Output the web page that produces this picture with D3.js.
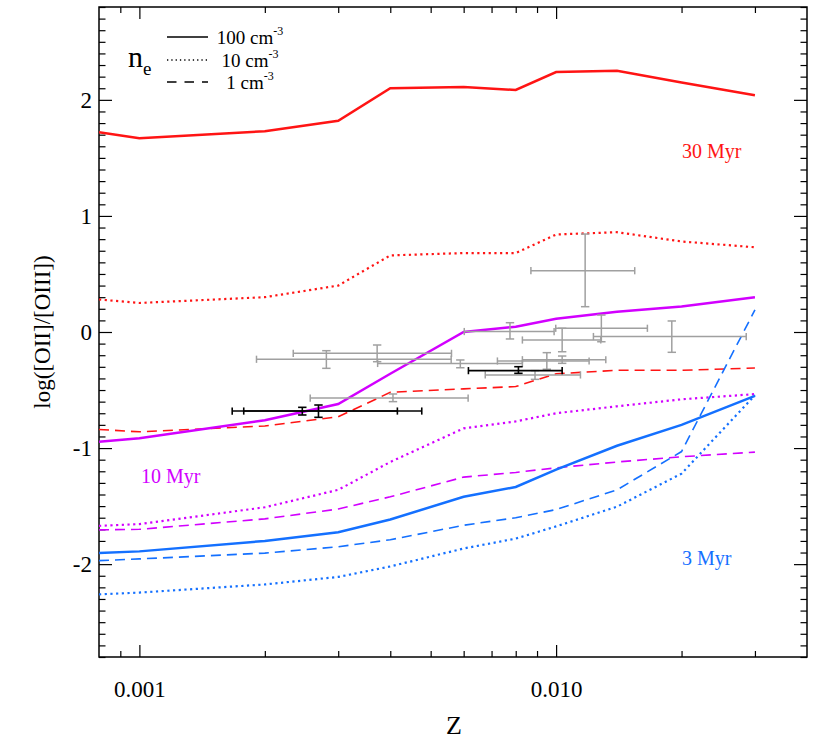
<!DOCTYPE html>
<html>
<head>
<meta charset="utf-8">
<script src="https://cdn.jsdelivr.net/npm/d3@7"></script>
<style>
body { margin: 0; background: #fff; }
text { font-family: "Liberation Serif", "DejaVu Serif", serif; fill: #000; }
</style>
</head>
<body>
<script>
// model grid in metallicity
var zGrid = [0.0008, 0.001, 0.002, 0.003, 0.004, 0.006, 0.008, 0.010, 0.014, 0.020, 0.030];

// 30 Myr
var red100 = [1.72, 1.67, 1.73, 1.82, 2.10, 2.11, 2.085, 2.24, 2.25, 2.15, 2.04];
var red10 = [0.28, 0.25, 0.30, 0.40, 0.66, 0.68, 0.68, 0.84, 0.86, 0.78, 0.73];
var red1 = [-0.84, -0.86, -0.81, -0.73, -0.52, -0.49, -0.47, -0.36, -0.33, -0.33, -0.31];

// 10 Myr
var mag100 = [-0.945, -0.915, -0.76, -0.62, -0.36, 0.0, 0.045, 0.115, 0.175, 0.22, 0.30];
var mag10 = [-1.67, -1.655, -1.51, -1.36, -1.12, -0.83, -0.77, -0.70, -0.64, -0.58, -0.535];
var mag1 = [-1.705, -1.70, -1.61, -1.525, -1.42, -1.25, -1.21, -1.17, -1.12, -1.075, -1.035];

// 3 Myr
var blue100 = [-1.905, -1.89, -1.80, -1.725, -1.615, -1.42, -1.335, -1.185, -0.98, -0.80, -0.55];
var blue10 = [-2.26, -2.245, -2.175, -2.11, -2.02, -1.865, -1.78, -1.675, -1.505, -1.22, -0.545];
var blue1 = [-1.97, -1.955, -1.905, -1.85, -1.79, -1.665, -1.60, -1.53, -1.36, -1.03, 0.19];

// observed points (grey)
var grayZ =   [0.00281, 0.00372, 0.00589, 0.00775, 0.01284, 0.01034, 0.01895, 0.00950, 0.01034, 0.00890, 0.00406, 0.01174];
var grayZlo = [0.00191, 0.00234, 0.00373, 0.00602, 0.00998, 0.00830, 0.01229, 0.00723, 0.00830, 0.00676, 0.00257, 0.00870];
var grayZhi = [0.00560, 0.00561, 0.00830, 0.00989, 0.01656, 0.01280, 0.02859, 0.01200, 0.01316, 0.01144, 0.00615, 0.01544];
var grayY =   [-0.235, -0.184, -0.271, 0.004, 0.032, -0.069, -0.039, -0.250, -0.239, -0.370, -0.569, 0.528];
var grayYlo = [-0.313, -0.256, -0.308, -0.060, -0.084, -0.170, -0.175, -0.321, -0.270, -0.408, -0.600, 0.218];
var grayYhi = [-0.161, -0.112, -0.241, 0.080, 0.146, 0.032, 0.095, -0.178, -0.207, -0.333, -0.534, 0.844];

// observed points (black)
var blackZ =   [0.00812, 0.00246, 0.00269];
var blackZlo = [0.00616, 0.00167, 0.00178];
var blackZhi = [0.01034, 0.00416, 0.00476];
var blackY =   [-0.333, -0.681, -0.681];
var blackYlo = [-0.356, -0.715, -0.735];
var blackYhi = [-0.299, -0.649, -0.629];

var xMajor = [0.001, 0.01];
var xMinor = [0.0009, 0.002, 0.003, 0.004, 0.005, 0.006, 0.007, 0.008, 0.009, 0.02, 0.03];
var yMajor = [-2, -1, 0, 1, 2];

var W = 830, H = 748;
var L = 99, R = 807, T = 7, B = 657;

var svg = d3.select("body")
            .append("svg")
            .attr("width", W)
            .attr("height", H);

var x = d3.scaleLog().domain([0.0008, 0.04]).range([L, R]);
var y = d3.scaleLinear().domain([-2.8, 2.8]).range([B, T]);

var yMinor = d3.range(-28, 29).filter(function(v){ return v % 10 != 0; }).map(function(v){ return v / 10; });

svg.append("clipPath").attr("id", "clip")
    .append("rect").attr("x", L).attr("y", T).attr("width", R - L).attr("height", B - T);

// axes (ticks point inward on all four sides)
function tidy(g){
    g.select(".domain").remove();
    g.attr("font-family", null);
    g.selectAll(".tick line").attr("stroke", "#000").attr("stroke-width", 1.2);
    g.selectAll(".tick text").style("font-size", "23px");
}

svg.append("g").attr("transform", "translate(0," + B + ")")
    .call(d3.axisBottom(x).tickValues(xMajor).tickSizeInner(-12).tickSizeOuter(0).tickPadding(24)
        .tickFormat(d3.format(".3f")))
    .call(tidy);
svg.append("g").attr("transform", "translate(0," + B + ")")
    .call(d3.axisBottom(x).tickValues(xMinor).tickSizeInner(-6).tickSizeOuter(0).tickFormat(""))
    .call(tidy);
svg.append("g").attr("transform", "translate(0," + T + ")")
    .call(d3.axisTop(x).tickValues(xMajor).tickSizeInner(-12).tickSizeOuter(0).tickFormat(""))
    .call(tidy);
svg.append("g").attr("transform", "translate(0," + T + ")")
    .call(d3.axisTop(x).tickValues(xMinor).tickSizeInner(-6).tickSizeOuter(0).tickFormat(""))
    .call(tidy);

svg.append("g").attr("transform", "translate(" + L + ",0)")
    .call(d3.axisLeft(y).tickValues(yMajor).tickSizeInner(-13).tickSizeOuter(0).tickPadding(7)
        .tickFormat(function(d){ return String(d); }))
    .call(tidy);
svg.append("g").attr("transform", "translate(" + L + ",0)")
    .call(d3.axisLeft(y).tickValues(yMinor).tickSizeInner(-6.5).tickSizeOuter(0).tickFormat(""))
    .call(tidy);
svg.append("g").attr("transform", "translate(" + R + ",0)")
    .call(d3.axisRight(y).tickValues(yMajor).tickSizeInner(-13).tickSizeOuter(0).tickFormat(""))
    .call(tidy);
svg.append("g").attr("transform", "translate(" + R + ",0)")
    .call(d3.axisRight(y).tickValues(yMinor).tickSizeInner(-6.5).tickSizeOuter(0).tickFormat(""))
    .call(tidy);

svg.append("rect")
    .attr("x", L).attr("y", T).attr("width", R - L).attr("height", B - T)
    .attr("fill", "none").attr("stroke", "#000").attr("stroke-width", 1.5);

// axis titles
svg.append("text").attr("x", 454).attr("y", 734)
    .attr("text-anchor", "middle").style("font-size", "26px").text("Z");
svg.append("text")
    .attr("transform", "translate(50," + ((T + B) / 2) + ") rotate(-90)")
    .attr("text-anchor", "middle").style("font-size", "23px").text("log([OII]/[OIII])");

// model curves
var RED = "#ff1414", MAG = "#d200ff", BLUE = "#1470ff";
var styles = {
    solid: { w: 2.5, dash: null },
    dot: { w: 2.2, dash: "2.2,3.5" },
    dash: { w: 1.6, dash: "10,6" }
};
var curves = [
    { v: red100, c: RED, s: "solid" }, { v: red10, c: RED, s: "dot" }, { v: red1, c: RED, s: "dash" },
    { v: mag100, c: MAG, s: "solid" }, { v: mag10, c: MAG, s: "dot" }, { v: mag1, c: MAG, s: "dash" },
    { v: blue100, c: BLUE, s: "solid" }, { v: blue10, c: BLUE, s: "dot" }, { v: blue1, c: BLUE, s: "dash" }
];

var line = d3.line()
    .x(function(d, i){ return x(zGrid[i]); })
    .y(function(d){ return y(d); });

svg.append("g").attr("clip-path", "url(#clip)")
    .selectAll("path")
    .data(curves)
    .enter()
    .append("path")
    .attr("d", function(d){ return line(d.v); })
    .attr("fill", "none")
    .attr("stroke", function(d){ return d.c; })
    .attr("stroke-width", function(d){ return styles[d.s].w; })
    .attr("stroke-dasharray", function(d){ return styles[d.s].dash; });

// error bars
function errBars(zs, zlo, zhi, ys, ylo, yhi, col, sw){
    var g = svg.append("g").attr("stroke", col).attr("stroke-width", sw).attr("fill", "none");
    var idx = d3.range(zs.length);
    var hc = 3.6, vc = 4.2;
    idx.forEach(function(i){
        var cx = x(zs[i]), cy = y(ys[i]);
        var x0 = x(zlo[i]), x1 = x(zhi[i]);
        var y0 = y(ylo[i]), y1 = y(yhi[i]);
        g.append("line").attr("x1", x0).attr("x2", x1).attr("y1", cy).attr("y2", cy);
        g.append("line").attr("x1", x0).attr("x2", x0).attr("y1", cy - hc).attr("y2", cy + hc);
        g.append("line").attr("x1", x1).attr("x2", x1).attr("y1", cy - hc).attr("y2", cy + hc);
        g.append("line").attr("x1", cx).attr("x2", cx).attr("y1", y0).attr("y2", y1);
        g.append("line").attr("x1", cx - vc).attr("x2", cx + vc).attr("y1", y0).attr("y2", y0);
        g.append("line").attr("x1", cx - vc).attr("x2", cx + vc).attr("y1", y1).attr("y2", y1);
    });
}
errBars(grayZ, grayZlo, grayZhi, grayY, grayYlo, grayYhi, "#a0a0a0", 1.5);
errBars(blackZ, blackZlo, blackZhi, blackY, blackYlo, blackYhi, "#000", 1.6);

// age labels
svg.append("text").attr("x", 682).attr("y", 158).style("fill", RED)
    .style("font-size", "20px").text("30 Myr");
svg.append("text").attr("x", 141).attr("y", 483).style("fill", MAG)
    .style("font-size", "20px").text("10 Myr");
svg.append("text").attr("x", 682).attr("y", 565).style("fill", BLUE)
    .style("font-size", "20px").text("3 Myr");

// density legend
var legend = svg.append("g");
var legRows = [
    { label: "100 cm", y: 37, dash: null, w: 1.3 },
    { label: "10 cm", y: 60, dash: "1.3,3", w: 1.3 },
    { label: "1 cm", y: 82, dash: "9.5,8", w: 1.3 }
];
legRows.forEach(function(r){
    legend.append("line").attr("x1", 167).attr("x2", 208).attr("y1", r.y).attr("y2", r.y)
        .attr("stroke", "#000").attr("stroke-width", r.w).attr("stroke-dasharray", r.dash);
    var t = legend.append("text").attr("x", 250).attr("y", r.y + 7)
        .attr("text-anchor", "middle").style("font-size", "19px");
    t.append("tspan").text(r.label);
    t.append("tspan").attr("dy", -9).style("font-size", "12px").text("-3");
});
var ne = legend.append("text").attr("x", 128).attr("y", 67).style("font-size", "30px");
ne.append("tspan").text("n");
ne.append("tspan").attr("dy", 8).style("font-size", "19px").text("e");
</script>
</body>
</html>
